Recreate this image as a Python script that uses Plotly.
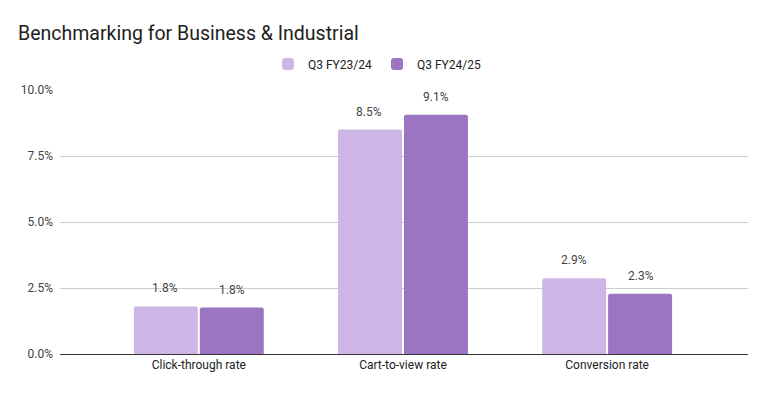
import plotly.graph_objects as go

categories = ["Click-through rate", "Cart-to-view rate", "Conversion rate"]
series_names = ["Q3 FY23/24", "Q3 FY24/25"]
values_fy2324 = [1.80, 8.50, 2.87]
values_fy2425 = [1.76, 9.06, 2.28]
y_ticks = [0, 2.5, 5, 7.5, 10]
y_tick_labels = [f"{t:.1f}%" for t in y_ticks]

colors = ["#cdb6e6", "#9b74c2"]
FONT = "Roboto, Arial, sans-serif"

# page body has an 8px default margin; figure is sized to fill the rest
W, H = 759, 386

fig = go.Figure()
for name, vals, col in zip(series_names, [values_fy2324, values_fy2425], colors):
    fig.add_trace(go.Bar(
        x=categories, y=vals, name=name,
        marker=dict(color=col, line=dict(width=0)),
        hoverinfo="skip",
    ))

annotations = []
for vals, shift in zip([values_fy2324, values_fy2425], [-33.5, 33.5]):
    for c, v in zip(categories, vals):
        annotations.append(dict(
            x=c, y=v, xref="x", yref="y", text=f"{v:.1f}%",
            showarrow=False, xshift=shift, yshift=9, yanchor="bottom",
            font=dict(family=FONT, size=12, color="#444444"),
        ))

fig.update_layout(
    width=W, height=H,
    margin=dict(l=52, r=19, t=82, b=40, autoexpand=False),
    paper_bgcolor="white", plot_bgcolor="white",
    barmode="group", bargap=0.354, bargroupgap=0.03,
    barcornerradius=2,
    title=dict(text="Benchmarking for Business & Industrial",
               x=10 / W, xref="container", xanchor="left",
               y=1 - 25 / H, yref="container", yanchor="middle",
               font=dict(family=FONT, size=19.5, color="#212121")),
    legend=dict(orientation="h", xref="container", x=369 / W, xanchor="center",
                yref="container", y=1 - 56 / H, yanchor="middle",
                font=dict(family=FONT, size=12, color="#222222"),
                itemclick=False),
    annotations=annotations,
    xaxis=dict(range=[-0.68, 2.69], showline=True, linecolor="#333333", linewidth=1,
               showgrid=False, ticks="", tickfont=dict(family=FONT, size=12, color="#222222")),
    yaxis=dict(range=[0, 10], tickvals=y_ticks, ticktext=y_tick_labels,
               showgrid=True, gridcolor="#cccccc", gridwidth=1, zeroline=False,
               ticklabelstandoff=6,
               tickfont=dict(family=FONT, size=12, color="#444444")),
    font=dict(family=FONT),
)

fig.write_html("out.html")
